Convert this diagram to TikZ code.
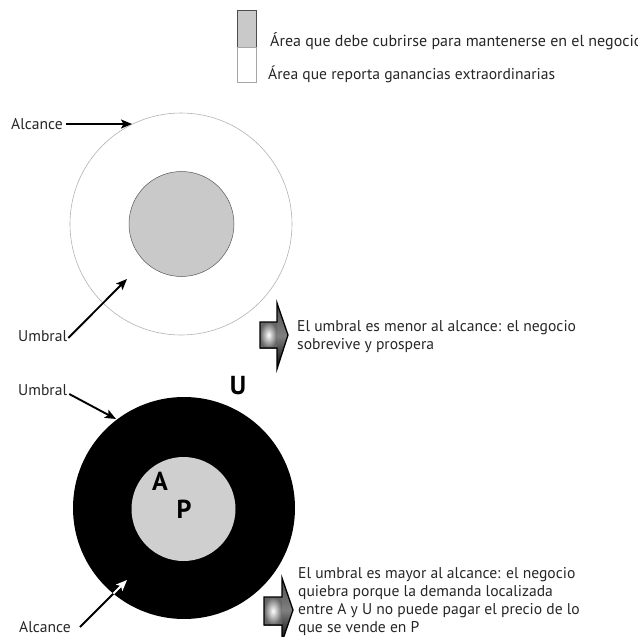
\documentclass[tikz,border=0pt]{standalone}
\usepackage{fontspec}
\setmainfont{PT Sans}
\usetikzlibrary{arrows.meta}
\definecolor{txt}{HTML}{262626}
\definecolor{lgray}{HTML}{C9C9C9}
\definecolor{lgrayb}{HTML}{CFCFCF}
\tikzset{
  lbl/.style={font=\fontsize{15.6}{17}\selectfont, text=txt, inner sep=0pt, anchor=west},
  big/.style={font=\fontsize{26}{28}\selectfont\bfseries, text=black, inner sep=0pt},
  ptr/.style={line width=1.9pt, -{Stealth[length=11pt,width=9pt,inset=2.5pt]}},
  blockbody/.style={inner color=white, outer color=gray!80!black},
}
\begin{document}
\begin{tikzpicture}[x=1pt,y=-1pt]
\useasboundingbox (0,0) rectangle (638,637);
\clip (0,0) rectangle (638,637);
% legend
\draw[line width=0.6pt, draw=gray!60!black, fill=lgray] (237,10) rectangle (256,47);
\draw[line width=0.6pt, draw=gray!70] (237,47) rectangle (256,82);
\node[lbl, font=\fontsize{16}{17}\selectfont] (leg1) at (270,41) {Área que debe cubrirse para mantenerse en el negocio};
\node[lbl] (leg2) at (268,74) {Área que reporta ganancias extraordinarias};
% top circles
\node[circle, draw=gray!60, line width=0.6pt, minimum size=222pt, inner sep=0pt] (outerA) at (181,224) {};
\node[circle, draw=gray!70!black, line width=0.5pt, fill=lgray, minimum size=105pt, inner sep=0pt] (innerA) at (181.5,224) {};
\node[lbl] (alc1) at (11,124) {Alcance};
\node[lbl] (umb1) at (18,336) {Umbral};
\coordinate (alc1tip) at (132,124);
\coordinate (umb1tip) at (127,279);
\draw[ptr] (alc1.east) ++(3,0) coordinate (alc1tail) -- (alc1tip);
\draw[ptr] (umb1.east) ++(1,2) coordinate (umb1tail) -- (umb1tip);
% bottom circles
\node[circle, fill=black, minimum size=222pt, inner sep=0pt] (outerB) at (184,508) {};
\node[circle, fill=lgrayb, minimum size=104pt, inner sep=0pt] (innerB) at (183.5,509) {};
\node[big] (U) at (238,386) {U};
\node[big] (A) at (160,481) {A};
\node[big] (P) at (184,509) {P};
\node[lbl] (umb2) at (18,390) {Umbral};
\node[lbl] (alc2) at (19,627) {Alcance};
\coordinate (umb2tip) at (116,419);
\coordinate (alc2tip) at (127,580);
\coordinate (alc2tail) at (80,627);
\draw[ptr] (umb2.east) ++(2,4) coordinate (umb2tail) -- (umb2tip);
\draw[ptr] (alc2tail) -- (alc2tip);
\begin{scope}
  \clip (184,508) circle[radius=111pt];
  \draw[ptr, white] (alc2tail) -- (alc2tip);
\end{scope}
% block arrow 1
\shade[blockbody] (260,322) rectangle (277,348);
\shade[top color=gray!60!black, bottom color=black, middle color=gray] (277,303) -- (288,335) -- (277,369) -- cycle;
\draw[line width=1.3pt, line join=miter] (260,322) -- (277,322) -- (277,303) -- (288,335) -- (277,369) -- (277,348) -- (260,348) -- cycle;
\node[lbl] (t1a) at (297,328) {El umbral es menor al alcance: el negocio};
\node[lbl] (t1b) at (297,346) {sobrevive y prospera};
% block arrow 2
\shade[blockbody] (264,597) rectangle (282,625);
\shade[top color=gray!60!black, bottom color=black, middle color=gray] (282,578) -- (293,610) -- (282,642) -- cycle;
\draw[line width=1.3pt, line join=miter] (264,597) -- (282,597) -- (282,578) -- (293,610) -- (282,642) -- (282,625) -- (264,625) -- cycle;
\node[lbl] (t2a) at (298,575) {El umbral es mayor al alcance: el negocio};
\node[lbl] (t2b) at (298,593) {quiebra porque la demanda localizada};
\node[lbl] (t2c) at (298,611) {entre A y U no puede pagar el precio de lo};
\node[lbl] (t2d) at (298,629) {que se vende en P};
\end{tikzpicture}
\end{document}
